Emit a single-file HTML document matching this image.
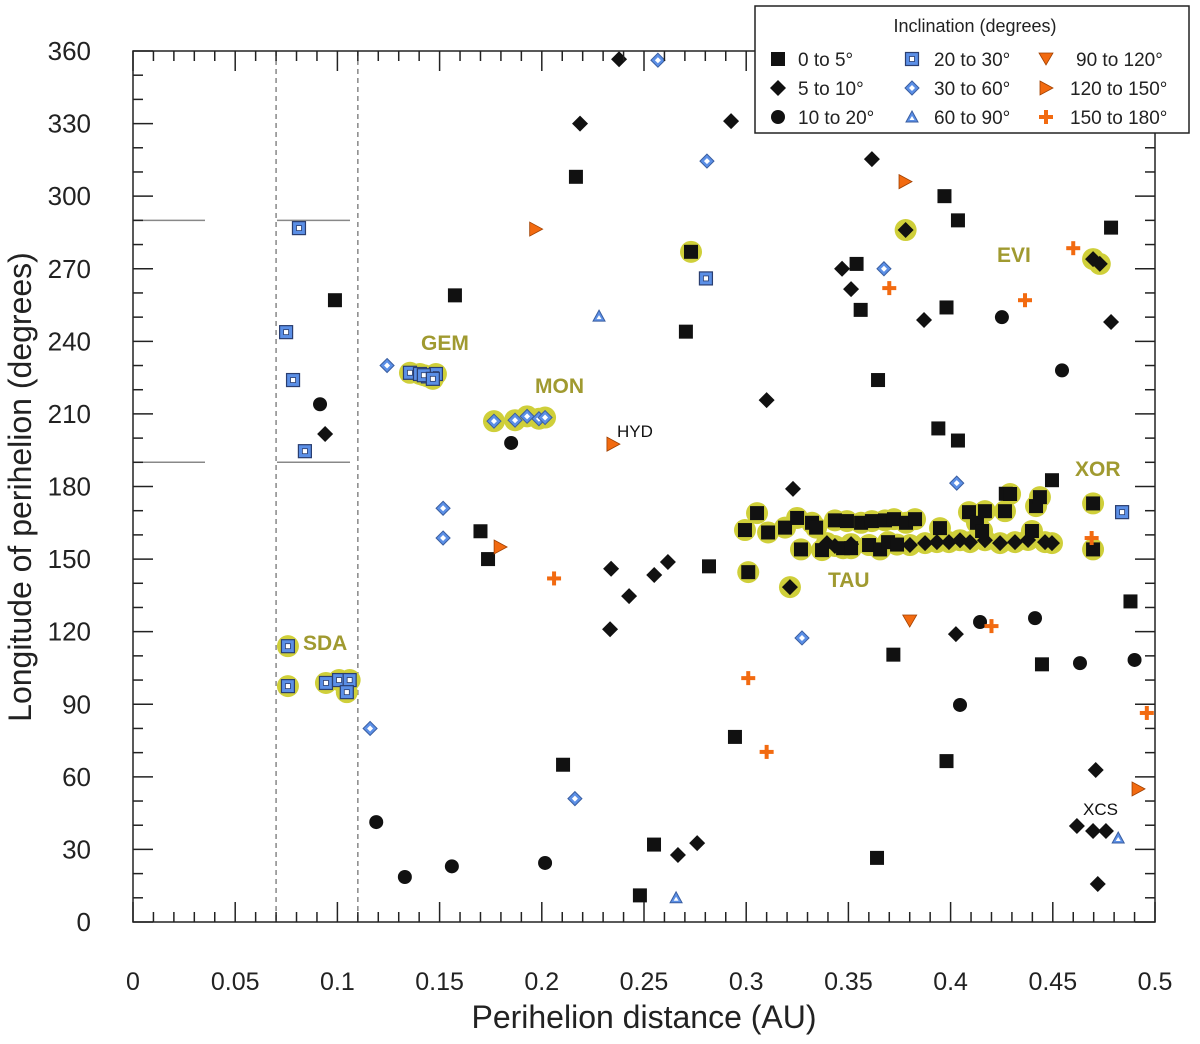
<!DOCTYPE html>
<html><head><meta charset="utf-8"><style>
body{margin:0;background:#fff;font-family:"Liberation Sans",Arial,sans-serif}
svg text{font-family:"Liberation Sans",Arial,sans-serif}
</style></head><body>
<svg id="chart" width="1200" height="1039" viewBox="0 0 1200 1039" xmlns="http://www.w3.org/2000/svg">
<rect width="1200" height="1039" fill="#fff"/>
<g id="grid"></g><g id="halos"></g><g id="marks"></g><g id="axes"></g>
<text x="0" y="0" transform="translate(31,487) rotate(-90)" text-anchor="middle" font-size="32" fill="#222">Longitude of perihelion (degrees)</text>
<text x="644" y="1028" text-anchor="middle" font-size="32" fill="#222">Perihelion distance (AU)</text>
<g font-weight="bold" font-size="21" fill="#a09a30">
<text x="421" y="350">GEM</text>
<text x="535" y="393">MON</text>
<text x="997" y="262">EVI</text>
<text x="1075" y="476">XOR</text>
<text x="828" y="587">TAU</text>
<text x="303" y="650">SDA</text>
</g>
<text x="617" y="437" font-size="17" fill="#111">HYD</text>
<text x="1083" y="815" font-size="17" fill="#111">XCS</text>
<g id="legend"></g>
</svg>
<script>
const xTicks=[0,0.05,0.1,0.15,0.2,0.25,0.3,0.35,0.4,0.45,0.5];
const yTicks=[0,30,60,90,120,150,180,210,240,270,300,330,360];
const sq0=[[0.2167,308],[0.0988,257],[0.1575,259],[0.2705,244],[0.170,161.5],[0.1737,150],[0.2818,147],[0.2104,65],[0.248,11],[0.2549,32],[0.2945,76.5],[0.354,272],[0.356,253],[0.3645,224],[0.397,300],[0.398,254],[0.4036,290],[0.4036,199],[0.394,204],[0.372,110.5],[0.398,66.5],[0.364,26.5],[0.4785,287],[0.488,132.5],[0.4496,182.6],[0.4447,106.5],[0.427,177]];
const sq0H=[[0.273,277],[0.301,144.6],[0.4697,173],[0.4697,154],[0.2994,162],[0.3053,169],[0.3107,161],[0.319,163],[0.3249,167],[0.3322,165],[0.3342,163],[0.3434,166],[0.3493,165.7],[0.3562,165],[0.3615,165.7],[0.3679,166],[0.3723,166.5],[0.3782,165],[0.3826,166.5],[0.3268,154],[0.3371,153.7],[0.3474,154.5],[0.3513,154.5],[0.3601,155.8],[0.3655,154],[0.3694,157],[0.3738,156],[0.409,169.4],[0.4129,165],[0.4168,169.8],[0.4154,161.6],[0.4291,176.9],[0.4266,169.8],[0.4418,171.9],[0.4437,175.6],[0.4398,161.6],[0.3948,162.8]];
const dm5=[[0.2378,356.6],[0.2187,330],[0.2926,331],[0.3615,315.3],[0.3469,270],[0.3513,261.6],[0.387,248.8],[0.4785,248],[0.310,215.7],[0.094,201.7],[0.3229,179],[0.2339,146],[0.255,143.4],[0.2617,148.8],[0.2427,134.7],[0.2334,121],[0.2666,27.7],[0.276,32.6],[0.4026,119],[0.471,62.8],[0.4618,39.7],[0.4697,37.6],[0.476,37.6],[0.472,15.7]];
const dm5H=[[0.378,286],[0.4697,274],[0.473,272],[0.3214,138.4],[0.3395,156.6],[0.3875,156.6],[0.3933,157],[0.3992,157],[0.4046,157.8],[0.4095,157],[0.4168,157.8],[0.4242,156.6],[0.4315,157],[0.4379,157.9],[0.4462,157],[0.4496,156.6],[0.3801,155.8],[0.3434,155.4],[0.3513,156.2]];
const ci10=[[0.0915,214],[0.185,198],[0.119,41.3],[0.133,18.6],[0.156,23],[0.2016,24.4],[0.4251,250],[0.4545,228],[0.4144,124],[0.4046,89.7],[0.4413,125.6],[0.4633,107],[0.490,108.3]];
const sq20=[[0.0812,286.8],[0.0749,243.8],[0.0783,224],[0.0841,194.6],[0.2803,266],[0.4839,169.4]];
const sq20H=[[0.0758,114],[0.0758,97.5],[0.0944,98.8],[0.1008,100],[0.106,100],[0.1046,95],[0.1355,227],[0.1404,226.5],[0.1443,225.5],[0.1482,226.5],[0.1423,226],[0.1467,224.5]];
const dm30=[[0.2568,356.2],[0.2808,314.5],[0.3674,270],[0.1243,230],[0.1517,171],[0.1517,158.7],[0.3273,117.4],[0.2162,51],[0.116,80],[0.403,181.4]];
const dm30H=[[0.1766,207],[0.1869,207.4],[0.1928,209],[0.1986,208],[0.2016,208.5]];
const tr60=[[0.228,250.4],[0.2657,10],[0.482,34.7]];
const td90=[[0.380,124.4]];
const tr120=[[0.197,286.4],[0.2348,197.5],[0.1796,155],[0.3777,306],[0.4917,55]];
const pl150=[[0.206,142],[0.301,100.8],[0.310,70.3],[0.370,262],[0.4364,257],[0.46,278.5],[0.469,158.7],[0.420,122.3],[0.496,86.4]];

const X0=133,X1=1155,Y0=922,Y1=51;
const sx=q=>X0+(X1-X0)*q/0.5, sy=l=>Y0-(Y0-Y1)*l/360;
const NS="http://www.w3.org/2000/svg";
function mk(tag,attrs,parent){const e=document.createElementNS(NS,tag);for(const k in attrs)e.setAttribute(k,attrs[k]);parent.appendChild(e);return e;}
const grid=document.getElementById('grid'),halos=document.getElementById('halos'),marks=document.getElementById('marks'),axes=document.getElementById('axes'),legend=document.getElementById('legend');

[[290],[190]].forEach(([l])=>{
 let a=mk('line',{x1:X0,x2:205,y1:sy(l),y2:sy(l),stroke:'#888','stroke-width':1.5},grid);
 
 
 let b=mk('line',{x1:277,x2:350,y1:sy(l),y2:sy(l),stroke:'#888','stroke-width':1.5},grid);
 
 
});
[0.07,0.11].forEach(q=>{
 let d=mk('line',{x1:sx(q),x2:sx(q),y1:Y1,y2:Y0,stroke:'#888','stroke-width':1.5,'stroke-dasharray':'5,4'},grid);
 
 
});

function drawSym(type,x,y,g){
 const B='#111',BL='#5b8fe6',BD='#2a3e70',OR='#f26a10';
 if(type==='sq0')mk('rect',{x:x-7,y:y-7,width:14,height:14,fill:B},g);
 else if(type==='dm5')mk('polygon',{points:`${x},${y-8} ${x+8},${y} ${x},${y+8} ${x-8},${y}`,fill:B},g);
 else if(type==='ci10')mk('circle',{cx:x,cy:y,r:7,fill:B},g);
 else if(type==='sq20'){mk('rect',{x:x-6.5,y:y-6.5,width:13,height:13,fill:BL,stroke:BD,'stroke-width':1.2},g);mk('rect',{x:x-2.5,y:y-2.5,width:5,height:5,fill:'#fff',stroke:BD,'stroke-width':0.8},g);}
 else if(type==='dm30'){mk('polygon',{points:`${x},${y-7} ${x+7},${y} ${x},${y+7} ${x-7},${y}`,fill:BL,stroke:'#3a5ea0','stroke-width':1},g);mk('polygon',{points:`${x},${y-3} ${x+3},${y} ${x},${y+3} ${x-3},${y}`,fill:'#fff'},g);}
 else if(type==='tr60'){mk('polygon',{points:`${x},${y-6} ${x+6},${y+5} ${x-6},${y+5}`,fill:BL,stroke:'#3a5ea0','stroke-width':1},g);mk('polygon',{points:`${x},${y-1} ${x+2.5},${y+3} ${x-2.5},${y+3}`,fill:'#fff'},g);}
 else if(type==='td90')mk('polygon',{points:`${x-7},${y-6} ${x+7},${y-6} ${x},${y+6}`,fill:OR,stroke:'#a04000','stroke-width':0.8},g);
 else if(type==='tr120')mk('polygon',{points:`${x-6},${y-7} ${x+7},${y} ${x-6},${y+7}`,fill:OR,stroke:'#a04000','stroke-width':0.8},g);
 else if(type==='pl150'){mk('rect',{x:x-7,y:y-2,width:14,height:4,fill:OR},g);mk('rect',{x:x-2,y:y-7,width:4,height:14,fill:OR},g);}
}
const series=[['sq0',sq0,false],['sq0',sq0H,true],['dm5',dm5,false],['dm5',dm5H,true],['ci10',ci10,false],['sq20',sq20,false],['sq20',sq20H,true],['dm30',dm30,false],['dm30',dm30H,true],['tr60',tr60,false],['td90',td90,false],['tr120',tr120,false],['pl150',pl150,false]];
series.forEach(([t,arr,h])=>{
 if(h)arr.forEach(([q,l])=>{
  const c=mk('circle',{cx:sx(q),cy:sy(l),r:11,fill:'#cfcf3a'},halos);
  
  
 });
 arr.forEach(([q,l])=>{
  const g=mk('g',{},marks);
  
  
  drawSym(t,sx(q),sy(l),g);
 });
});

const fr=mk('rect',{x:X0,y:Y1,width:X1-X0,height:Y0-Y1,fill:'none',stroke:'#222','stroke-width':1.5},axes);


for(let i=0;i<=50;i++){const q=i*0.01,x=sx(q),L=i%5===0?20:10;
 mk('line',{x1:x,x2:x,y1:Y0,y2:Y0-L,stroke:'#222','stroke-width':1.5},axes);
 mk('line',{x1:x,x2:x,y1:Y1,y2:Y1+L,stroke:'#222','stroke-width':1.5},axes);}
for(let i=0;i<=36;i++){const y=sy(i*10),L=i%3===0?20:10;
 mk('line',{x1:X0,x2:X0+L,y1:y,y2:y,stroke:'#222','stroke-width':1.5},axes);
 mk('line',{x1:X1,x2:X1-L,y1:y,y2:y,stroke:'#222','stroke-width':1.5},axes);}
xTicks.forEach(v=>{const t=mk('text',{x:sx(v),y:990,'text-anchor':'middle','font-size':25,fill:'#222'},axes);t.textContent=String(v);
 
 });
yTicks.forEach(v=>{const t=mk('text',{x:91,y:sy(v)+9,'text-anchor':'end','font-size':26,fill:'#222'},axes);t.textContent=String(v);
 
 });

mk('rect',{x:755,y:6,width:434,height:127,fill:'#fff',stroke:'#222','stroke-width':1.5},legend);
const lt=mk('text',{x:975,y:32,'text-anchor':'middle','font-size':18,fill:'#222'},legend);lt.textContent='Inclination (degrees)';
const legTypes=['sq0','dm5','ci10','sq20','dm30','tr60','td90','tr120','pl150'];
const legLabels=['0 to  5°','5 to 10°','10 to 20°','20 to 30°','30 to 60°','60 to 90°','90 to 120°','120 to 150°','150 to 180°'];
legTypes.forEach((t,i)=>{const col=Math.floor(i/3),row=i%3;const x=[778,912,1046][col],y=59+row*29;
 const g=mk('g',{},legend);
 
 
 drawSym(t,x,y,g);
 const tx=mk('text',{x:[798,934,1070][col]+ (col===2&&row===0?6:0),y:y+7,'font-size':19,fill:'#222'},g);tx.textContent=legLabels[i];
});
</script>
</body></html>
